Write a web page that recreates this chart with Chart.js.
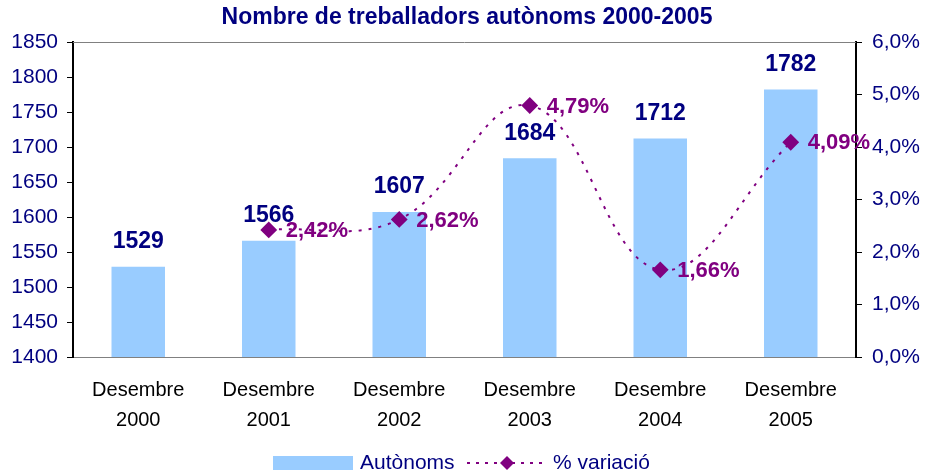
<!DOCTYPE html>
<html>
<head>
<meta charset="utf-8">
<script src="https://cdn.jsdelivr.net/npm/chart.js@4/dist/chart.umd.min.js"></script>
<style>
  html, body { margin: 0; padding: 0; background: #fff; }
  #wrap { width: 928px; height: 472px; }
</style>
</head>
<body>
<div id="wrap"><canvas id="chart"></canvas></div>
<script>
// Treballadors autònoms 2000-2005

const categories = [
  ["Desembre", "2000"],
  ["Desembre", "2001"],
  ["Desembre", "2002"],
  ["Desembre", "2003"],
  ["Desembre", "2004"],
  ["Desembre", "2005"],
];
const autonoms = [1529, 1566, 1607, 1684, 1712, 1782];
const variacio = [null, 2.42, 2.62, 4.79, 1.66, 4.09];

const FONT = "'Liberation Sans', Arial, sans-serif";
const NAVY = "#000080";
const PURPLE = "#800080";
const BAR_BLUE = "#99CCFF";

function pct(v, digits) {
  return v.toFixed(digits).replace(".", ",") + "%";
}

// title, frame, value labels and legend
const decorations = {
  id: "decorations",
  beforeDatasetsDraw(chart) {
    const { ctx, chartArea: a } = chart;
    ctx.save();
    ctx.strokeStyle = "#808080";
    ctx.lineWidth = 1;
    ctx.beginPath();
    ctx.moveTo(a.left, a.top + 0.5);
    ctx.lineTo(a.right, a.top + 0.5);
    ctx.stroke();
    ctx.restore();
  },
  afterDatasetsDraw(chart) {
    const { ctx } = chart;
    ctx.save();

    // bar values
    const barMeta = chart.getDatasetMeta(1);
    ctx.font = "bold 23px " + FONT;
    ctx.fillStyle = NAVY;
    ctx.textAlign = "center";
    ctx.textBaseline = "middle";
    barMeta.data.forEach((bar, i) => {
      ctx.fillText(String(autonoms[i]), bar.x, bar.y - 25);
    });

    // percentage labels
    const lineMeta = chart.getDatasetMeta(0);
    ctx.font = "bold 22px " + FONT;
    ctx.fillStyle = PURPLE;
    ctx.textAlign = "left";
    lineMeta.data.forEach((pt, i) => {
      if (variacio[i] == null) return;
      ctx.fillText(pct(variacio[i], 2), pt.x + 17, pt.y + 1);
    });

    // title
    ctx.font = "bold 23px " + FONT;
    ctx.fillStyle = NAVY;
    ctx.textAlign = "center";
    ctx.fillText("Nombre de treballadors autònoms 2000-2005", 467, 18);

    // legend
    const ly = 463;
    ctx.fillStyle = BAR_BLUE;
    ctx.fillRect(273, 456, 80, 14);
    ctx.font = "21px " + FONT;
    ctx.fillStyle = NAVY;
    ctx.textAlign = "left";
    ctx.fillText("Autònoms", 360, ly);

    ctx.strokeStyle = PURPLE;
    ctx.lineWidth = 2;
    ctx.setLineDash([3, 6]);
    ctx.beginPath();
    ctx.moveTo(467, ly);
    ctx.lineTo(545, ly);
    ctx.stroke();
    ctx.setLineDash([]);
    ctx.fillStyle = PURPLE;
    ctx.beginPath();
    ctx.moveTo(507, ly - 7);
    ctx.lineTo(514, ly);
    ctx.lineTo(507, ly + 7);
    ctx.lineTo(500, ly);
    ctx.closePath();
    ctx.fill();

    ctx.fillStyle = NAVY;
    ctx.fillText("% variació", 553, ly);

    ctx.restore();
  },
};

const chart = new Chart(document.getElementById("chart"), {
  data: {
    labels: categories,
    datasets: [
      {
        type: "line",
        label: "% variació",
        data: variacio,
        yAxisID: "y2",
        borderColor: PURPLE,
        borderWidth: 2,
        borderDash: [3, 7],
        tension: 0.4,
        pointStyle: "rectRot",
        pointRadius: 7,
        pointBackgroundColor: PURPLE,
        pointBorderColor: PURPLE,
        fill: false,
      },
      {
        type: "bar",
        label: "Autònoms",
        data: autonoms,
        yAxisID: "y",
        backgroundColor: BAR_BLUE,
        categoryPercentage: 1,
        barPercentage: 0.41,
      },
    ],
  },
  options: {
    responsive: true,
    maintainAspectRatio: false,
    animation: false,
    layout: { padding: { top: 42, right: 0, bottom: 0, left: 0 } },
    plugins: {
      legend: { display: false },
      title: { display: false },
      tooltip: { enabled: false },
    },
    scales: {
      x: {
        grid: { display: false },
        border: { display: true, color: "#808080", width: 1 },
        ticks: {
          color: "#000",
          font: { family: FONT, size: 20, lineHeight: 1.5 },
          padding: 10,
          maxRotation: 0,
          autoSkip: false,
        },
        afterFit(scale) { scale.height = 115; },
      },
      y: {
        position: "left",
        min: 1400,
        max: 1850,
        grid: { drawOnChartArea: false, drawTicks: true, tickLength: 6, color: "#000" },
        border: { display: true, color: "#000", width: 2 },
        ticks: {
          stepSize: 50,
          color: NAVY,
          padding: 9,
          font: { family: FONT, size: 21 },
          callback: (v) => String(v),
        },
        afterFit(scale) { scale.width = 73; },
      },
      y2: {
        position: "right",
        min: 0,
        max: 6,
        grid: { drawOnChartArea: false, drawTicks: true, tickLength: 6, color: "#000" },
        border: { display: true, color: "#000", width: 2 },
        ticks: {
          stepSize: 1,
          color: NAVY,
          padding: 10,
          font: { family: FONT, size: 21 },
          callback: (v) => pct(v, 1),
        },
        afterFit(scale) { scale.width = 72; },
      },
    },
  },
  plugins: [decorations],
});
</script>
</body>
</html>
